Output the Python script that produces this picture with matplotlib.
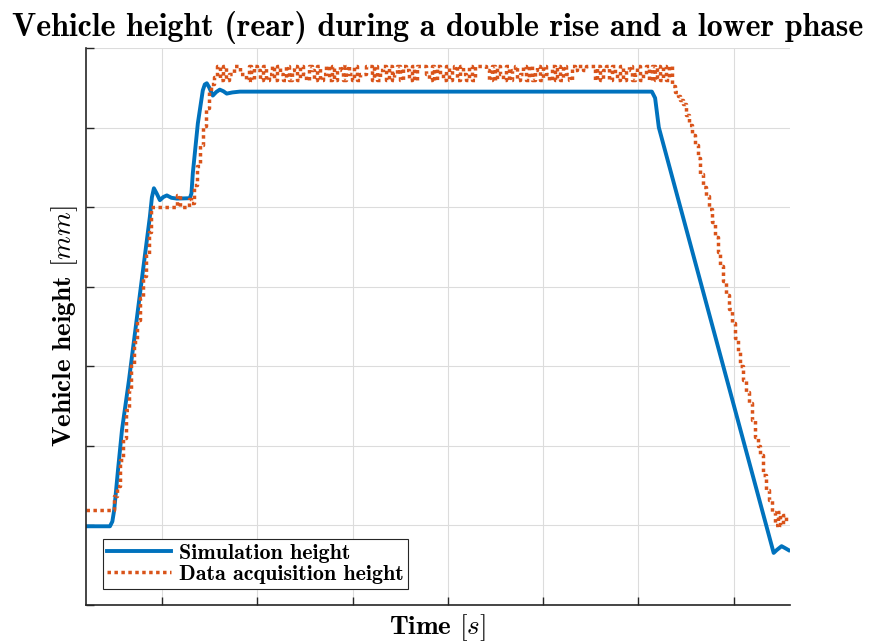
import numpy as np
import matplotlib
matplotlib.use("Agg")
import matplotlib.pyplot as plt

plt.rcParams["mathtext.fontset"] = "cm"

# simulation output (time in s, height in mm)
sim_time = [2.04, 4.55, 4.8, 5.0, 5.39, 5.81, 6.54, 7.69, 8.74, 8.95, 9.16, 9.45, 9.79,
            10.15, 10.52, 11.0, 11.57, 12.93, 13.1, 13.24, 13.77, 14.29, 14.5, 14.71,
            14.95, 15.34, 15.7, 16.07, 16.45, 16.8, 17.4, 18.17, 61.41, 61.75, 62.14,
            74.19, 74.5, 75.02, 75.4, 75.76]
sim_height = [19.8, 19.8, 21.0, 24.0, 33.9, 44.0, 56.5, 78.1, 97.7, 102.5, 104.8, 103.5,
              101.8, 102.6, 103.0, 102.4, 102.2, 102.3, 103.5, 108.5, 121.1, 129.4, 130.9,
              131.2, 130.2, 128.1, 129.0, 129.6, 129.2, 128.6, 128.9, 129.1, 129.1, 127.5,
              120.1, 13.1, 13.8, 14.8, 14.3, 13.8]

# acquired signal, sampled every 0.3 s from t = 2.0 s
daq_t0 = 2.0
daq_dt = 0.3
daq_height = [
    24, 24, 24, 24, 24, 24, 24, 24, 24, 24,
    27.5, 30, 36.5, 42, 49, 54, 60.7, 66.2, 71.7, 77.1,
    82.7, 88.2, 93.7, 100, 100, 100, 100, 100, 100, 100,
    100, 100, 103, 100, 100, 100, 102, 101, 105.5, 110.5,
    115.6, 120.4, 125.1, 128.9, 130.9, 132.9,
    # plateau
    135.5, 132, 135.5, 132, 133.5, 133.5, 135.5, 135.5, 133.5, 133.5,
    132, 135.5, 132, 135.5, 134.5, 132, 135.5, 132, 133.5, 135.5,
    132, 135.5, 133.5, 132, 135.5, 132, 134.5, 135.5, 132, 135.5,
    133.5, 132, 135.5, 134.5, 132, 135.5, 132, 133.5, 135.5, 132,
    135.5, 132, 134.5, 135.5, 132, 135.5, 133.5, 132, 135.5, 132,
    133.5, 133.5, 135.5, 135.5, 132, 135.5, 132, 134.5, 135.5, 132,
    135.5, 132, 133.5, 135.5, 132, 135.5, 134.5, 132, 135.5, 132,
    135.5, 135.5, 135.5, 133.5, 132, 135.5, 132, 135.5, 133.5, 132,
    135.5, 132, 134.5, 135.5, 132, 135.5, 133.5, 132, 135.5, 132,
    135.5, 135.5, 135.5, 135.5, 134.5, 132, 135.5, 132, 135.5, 133.5,
    132, 135.5, 132, 134.5, 135.5, 132, 133.5, 135.5, 132, 135.5,
    132, 134.5, 135.5, 132, 135.5, 133.5, 132, 135.5, 132, 135.5,
    132, 135.5, 133.5, 132, 135.5, 134.5, 135.5, 135.5, 134.5, 135.5,
    135.5, 135.5, 132, 135.5, 132, 134.5, 135.5, 132, 135.5, 133.5,
    132, 135.5, 132, 134.5, 135.5, 132, 133.5, 135.5, 132, 133.5,
    135.5, 132, 135.5, 132, 135.5, 132, 135.5, 132, 135.5,
    # lowering
    130.4, 128.9, 127.9, 127.1, 125.9, 123.1, 120.6, 118.1, 115.6, 112.3,
    108.5, 105.0, 102.8, 99.7, 96.2, 92.5, 88.7, 85.2, 81.4, 77.9,
    74.4, 70.9, 67.1, 63.6, 60.1, 56.5, 53.5, 50.8, 46.5, 42.2,
    40.0, 37.7, 32.7, 28.9, 26.4, 23.4, 20.1, 23.4, 20.1, 22.6, 20.9,
]
daq_time = daq_t0 + daq_dt * np.arange(len(daq_height))

x_ticks = [10, 20, 30, 40, 50, 60, 70]
y_ticks = [0, 20, 40, 60, 80, 100, 120, 140]

blue = "#0072BD"
orange = "#D95319"
ink = "#262626"

fig = plt.figure(figsize=(8.7, 6.42), dpi=100)
ax = fig.add_axes([0.0989, 0.0576, 0.8091, 0.8672])

ax.plot(sim_time, sim_height, color=blue, linewidth=2.8,
        solid_joinstyle="round", label="Simulation height")
ax.plot(daq_time, daq_height, color=orange, linewidth=2.5, linestyle=(0, (1, 1)),
        drawstyle="steps-post", dash_capstyle="butt", label="Data acquisition height")

ax.set_xlim(2.04, 75.9)
ax.set_ylim(0, 140)
ax.set_xticks(x_ticks)
ax.set_yticks(y_ticks)
ax.set_xticklabels([])
ax.set_yticklabels([])
ax.tick_params(direction="in", length=6, width=1.0, color=ink)
ax.grid(True, color="#dcdcdc", linewidth=0.8)
ax.set_axisbelow(True)
for side in ["top", "right"]:
    ax.spines[side].set_visible(False)
for side in ["left", "bottom"]:
    ax.spines[side].set_color(ink)
    ax.spines[side].set_linewidth(1.2)

ax.set_title("Vehicle height (rear) during a double rise and a lower phase",
             family="cmb10", fontsize=23, pad=9)
ax.set_xlabel("Time $[s]$", family="cmb10", fontsize=19.5, labelpad=2)
ax.set_ylabel("Vehicle height $[mm]$", family="cmb10", fontsize=19.5, labelpad=1)

leg = ax.legend(loc="lower left", prop={"family": "cmb10", "size": 15.8},
                fancybox=False, edgecolor=ink, framealpha=1, borderaxespad=0.75,
                handlelength=2.9, handletextpad=0.4, borderpad=0.2, labelspacing=0.1)
leg.get_frame().set_linewidth(0.8)

fig.savefig("out.png", dpi=100)
